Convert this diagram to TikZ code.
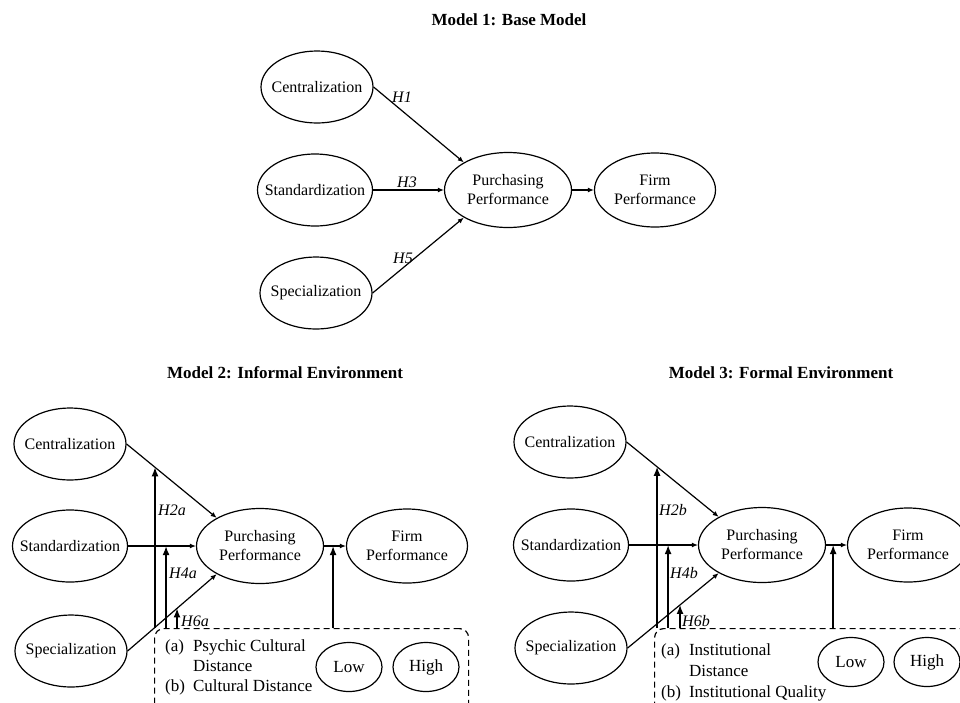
\documentclass[tikz,border=0pt]{standalone}
\usepackage{fontspec}
\setmainfont{Liberation Serif}
\usetikzlibrary{shapes.geometric,arrows.meta}

\begin{document}
\begin{tikzpicture}[x=1pt,y=-1pt,
  factor/.style={ellipse, draw, line width=1.2pt, inner xsep=-14pt, inner ysep=0pt, align=center,
    minimum width=112pt, minimum height=72pt, font=\fontsize{16}{19}\selectfont},
  outcome/.style={factor, minimum width=127pt, minimum height=75pt},
  firm/.style={factor, minimum width=121pt, minimum height=74pt},
  band/.style={factor, minimum width=66pt, minimum height=49pt, font=\fontsize{17}{20}\selectfont},
  modbox/.style={draw, line width=1.2pt, dash pattern=on 6pt off 4pt, rounded corners=9pt, inner sep=0pt},
  boxtext/.style={anchor=west, inner sep=0pt, font=\fontsize{17}{20}\selectfont},
  heading/.style={font=\fontsize{17}{20}\selectfont\bfseries},
  hyp/.style={font=\fontsize{16}{19}\selectfont\itshape, inner sep=1pt},
  link/.style={-{Latex[length=6pt,width=5pt]}, line width=1.2pt},
  modlink/.style={-{Latex[length=9pt,width=7pt]}, line width=1.4pt}]
\clip (0,0) rectangle (960,702);

% Model 1
\node[heading] (t1) at (509,20) {Model 1: Base Model};
\node[factor] (c1) at (317,87) {Centralization};
\node[factor, minimum width=115pt] (s1) at (315,190) {Standardization};
\node[factor] (sp1) at (316,293) {Specialization};
\node[outcome] (pp1) at (508,190) {Purchasing\\Performance};
\node[firm] (fp1) at (655,190) {Firm\\Performance};
\draw[link] (c1.east) -- (pp1.148);
\draw[link] (s1.east) -- (pp1.west);
\draw[link] (sp1.east) -- (pp1.212);
\draw[link] (pp1.east) -- (fp1.west);
\node[hyp] (h1) at (402,97) {H1};
\node[hyp] (h3) at (407,182) {H3};
\node[hyp] (h5) at (403,258) {H5};

% Model 2
\node[heading] (t2) at (285,373) {Model 2: Informal Environment};
\node[factor] (c2) at (70,444) {Centralization};
\node[factor, minimum width=115pt] (s2) at (70,546) {Standardization};
\node[factor] (sp2) at (71,651) {Specialization};
\node[outcome] (pp2) at (260,546) {Purchasing\\Performance};
\node[firm] (fp2) at (407,546) {Firm\\Performance};
\node[modbox, minimum width=314pt, minimum height=90pt, anchor=north west] (box2) at (154,628) {};
\node[boxtext] (txt2) at (165,667) {\begin{tabular}{@{}l@{\hspace{8pt}}l@{}}(a) & Psychic Cultural\\ & Distance\\(b) & Cultural Distance\end{tabular}};
\node[band] (lo2) at (349,667) {Low};
\node[band] (hi2) at (426,667) {High};
\draw[link] (c2.east) -- (pp2.147);
\draw[link] (s2.east) -- (pp2.west);
\draw[link] (sp2.east) -- (pp2.213);
\draw[link] (pp2.east) -- (fp2.west);
\coordinate (m2a) at (intersection of c2.east--pp2.147 and 155,0--155,700);
\coordinate (m4a) at (intersection of s2.east--pp2.west and 166,0--166,700);
\coordinate (m6a) at (intersection of sp2.east--pp2.213 and 177,0--177,700);
\coordinate (m2f) at (intersection of pp2.east--fp2.west and 333,0--333,700);
\draw[modlink] (box2.north -| m2a) -- (m2a);
\draw[modlink] (box2.north -| m4a) -- (m4a);
\draw[modlink] (box2.north -| m6a) -- (m6a);
\draw[modlink] (box2.north -| m2f) -- (m2f);
\node[hyp, anchor=west] (h2a) at (157,510) {H2a};
\node[hyp, anchor=west] (h4a) at (168,573) {H4a};
\node[hyp, anchor=west] (h6a) at (180,621) {H6a};

% Model 3
\node[heading] (t3) at (781,373) {Model 3: Formal Environment};
\node[factor] (c3) at (570,442) {Centralization};
\node[factor, minimum width=115pt] (s3) at (571,545) {Standardization};
\node[factor] (sp3) at (571,648) {Specialization};
\node[outcome] (pp3) at (762,545) {Purchasing\\Performance};
\node[firm] (fp3) at (908,545) {Firm\\Performance};
\node[modbox, minimum width=340pt, minimum height=90pt, anchor=north west] (box3) at (654,628) {};
\node[boxtext, font=\fontsize{17}{21}\selectfont] (txt3) at (661,672) {\begin{tabular}{@{}l@{\hspace{8pt}}l@{}}(a) & Institutional\\ & Distance\\(b) & Institutional Quality\end{tabular}};
\node[band] (lo3) at (851,662) {Low};
\node[band] (hi3) at (927,662) {High};
\draw[link] (c3.east) -- (pp3.147);
\draw[link] (s3.east) -- (pp3.west);
\draw[link] (sp3.east) -- (pp3.213);
\draw[link] (pp3.east) -- (fp3.west);
\coordinate (m2b) at (intersection of c3.east--pp3.147 and 657,0--657,700);
\coordinate (m4b) at (intersection of s3.east--pp3.west and 668,0--668,700);
\coordinate (m6b) at (intersection of sp3.east--pp3.213 and 680,0--680,700);
\coordinate (m3f) at (intersection of pp3.east--fp3.west and 833,0--833,700);
\draw[modlink] (box3.north -| m2b) -- (m2b);
\draw[modlink] (box3.north -| m4b) -- (m4b);
\draw[modlink] (box3.north -| m6b) -- (m6b);
\draw[modlink] (box3.north -| m3f) -- (m3f);
\node[hyp, anchor=west] (h2b) at (658,510) {H2b};
\node[hyp, anchor=west] (h4b) at (669,573) {H4b};
\node[hyp, anchor=west] (h6b) at (681,621) {H6b};
\end{tikzpicture}
\end{document}
